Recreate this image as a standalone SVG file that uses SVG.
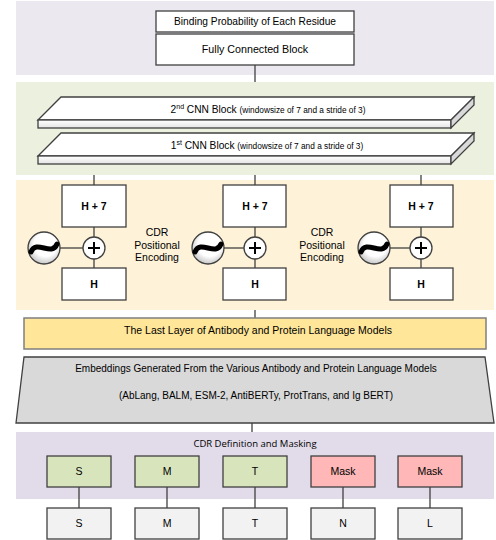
<svg xmlns="http://www.w3.org/2000/svg" width="496" height="540" viewBox="0 0 496 540">
<defs>
<style>
text{font-family:"Liberation Sans",Arial,sans-serif;fill:#000;}
.box{stroke:#404040;stroke-width:1.3;}
.w{fill:#fff;}
.ln{stroke:#404040;stroke-width:1.3;fill:none;}
.t10{font-size:10px;text-anchor:middle;}
.b{font-weight:bold;font-size:10.5px;text-anchor:middle;}
.lab{font-size:10.5px;text-anchor:middle;}
.sw{stroke:#000;stroke-width:5;fill:none;stroke-linecap:round;}
</style>
<linearGradient id="front" x1="0" y1="0" x2="0" y2="1">
<stop offset="0" stop-color="#ffffff"/>
<stop offset="1" stop-color="#e4e4e4"/>
</linearGradient>
<radialGradient id="sine" cx="0.55" cy="0.4" r="0.6">
<stop offset="0.6" stop-color="#ffffff"/>
<stop offset="1" stop-color="#c8c8c8"/>
</radialGradient>
</defs>

<!-- bands -->
<g id="bands">
<rect x="16" y="1" width="478" height="74" fill="#ebe9ef"/>
<rect x="16" y="82" width="478" height="93" fill="#ebf1de"/>
<rect x="16" y="180" width="478" height="130" fill="#fef3d8"/>
<rect x="16" y="432" width="478" height="67" fill="#e2dcea"/>
</g>

<g id="connectors">
<line class="ln" x1="255" y1="65" x2="255" y2="82"/>
<line class="ln" x1="94" y1="175" x2="94" y2="185"/>
<line class="ln" x1="255" y1="175" x2="255" y2="185"/>
<line class="ln" x1="421" y1="175" x2="421" y2="185"/>
<line class="ln" x1="94" y1="227" x2="94" y2="268"/>
<line class="ln" x1="255" y1="227" x2="255" y2="268"/>
<line class="ln" x1="421" y1="227" x2="421" y2="268"/>
<line class="ln" x1="60" y1="248" x2="83" y2="248"/>
<line class="ln" x1="224" y1="248" x2="244" y2="248"/>
<line class="ln" x1="390" y1="248" x2="410" y2="248"/>
<line class="ln" x1="255" y1="310" x2="255" y2="318"/>
<line class="ln" x1="252" y1="423" x2="252" y2="432"/>
<line class="ln" x1="79" y1="487" x2="79" y2="508"/>
<line class="ln" x1="167" y1="487" x2="167" y2="508"/>
<line class="ln" x1="255" y1="487" x2="255" y2="508"/>
<line class="ln" x1="343" y1="487" x2="343" y2="508"/>
<line class="ln" x1="430" y1="487" x2="430" y2="508"/>
</g>

<g id="binding">
<rect class="box w" x="156" y="11" width="198" height="21"/>
<text class="t10" x="255" y="25" style="font-size:10.2px">Binding Probability of Each Residue</text>
</g>
<g id="fc">
<rect class="box w" x="156" y="34" width="198" height="31"/>
<text class="t10" x="255" y="53" style="font-size:10.7px">Fully Connected Block</text>
</g>

<g id="cnn2">
<polygon class="box w" points="38,120 61,97 474,97 451,120"/>
<rect class="box" x="38" y="120" width="413" height="8" fill="url(#front)"/>
<polygon class="box" points="451,120 474,97 474,105 451,128" fill="#d9d9d9"/>
<text x="268" y="113" style="font-size:10.2px;text-anchor:middle">2<tspan font-size="7" dy="-4">nd</tspan><tspan dy="4">  CNN Block </tspan><tspan font-size="8.3">(windowsize of 7 and a stride of 3)</tspan></text>
</g>
<g id="cnn1">
<polygon class="box w" points="38,156 61,133 474,133 451,156"/>
<rect class="box" x="38" y="156" width="413" height="8" fill="url(#front)"/>
<polygon class="box" points="451,156 474,133 474,141 451,164" fill="#d9d9d9"/>
<text x="267" y="149" style="font-size:10.2px;text-anchor:middle">1<tspan font-size="7" dy="-4">st</tspan><tspan dy="4"> CNN Block </tspan><tspan font-size="8.3">(windowsize of 7 and a stride of 3)</tspan></text>
</g>

<g id="h7-1"><rect class="box w" x="62" y="185" width="64" height="42"/><text class="b" x="94" y="210">H + 7</text></g>
<g id="h7-2"><rect class="box w" x="223" y="185" width="63" height="42"/><text class="b" x="255" y="210">H + 7</text></g>
<g id="h7-3"><rect class="box w" x="390" y="185" width="63" height="42"/><text class="b" x="421" y="210">H + 7</text></g>

<g id="h-1"><rect class="box w" x="62" y="268" width="64" height="32"/><text class="b" x="94" y="288">H</text></g>
<g id="h-2"><rect class="box w" x="223" y="268" width="63" height="32"/><text class="b" x="255" y="288">H</text></g>
<g id="h-3"><rect class="box w" x="390" y="268" width="63" height="32"/><text class="b" x="421" y="288">H</text></g>

<g id="plus-1"><circle class="box w" cx="94" cy="248" r="11"/><path d="M88,248H100M94,242V254" stroke="#000" stroke-width="2"/></g>
<g id="plus-2"><circle class="box w" cx="255" cy="248" r="11"/><path d="M249,248H261M255,242V254" stroke="#000" stroke-width="2"/></g>
<g id="plus-3"><circle class="box w" cx="421" cy="248" r="11"/><path d="M415,248H427M421,242V254" stroke="#000" stroke-width="2"/></g>

<g id="sine-1"><circle class="box" cx="44" cy="248" r="16" fill="url(#sine)"/><path class="sw" d="M31,252 C36,239 52,257 57,244"/></g>
<g id="sine-2"><circle class="box" cx="208" cy="248" r="16" fill="url(#sine)"/><path class="sw" d="M195,252 C200,239 216,257 221,244"/></g>
<g id="sine-3"><circle class="box" cx="374" cy="248" r="16" fill="url(#sine)"/><path class="sw" d="M361,252 C366,239 382,257 387,244"/></g>

<g id="cdr-pe-1"><text class="lab" x="157" y="236">CDR<tspan x="157" dy="12.5">Positional</tspan><tspan x="157" dy="12.5">Encoding</tspan></text></g>
<g id="cdr-pe-2"><text class="lab" x="322" y="236">CDR<tspan x="322" dy="12.5">Positional</tspan><tspan x="322" dy="12.5">Encoding</tspan></text></g>

<g id="lastlayer">
<rect x="24" y="318" width="462" height="31" fill="#ffe699" stroke="#7f7f7f" stroke-width="1.5"/>
<text class="t10" x="258" y="334" style="font-size:10.5px">The Last Layer of Antibody and Protein Language Models</text>
</g>

<g id="embeddings">
<polygon points="24,357 485,357 494,423 16,423" fill="#d9d9d9" stroke="#404040" stroke-width="1.3"/>
<text class="t10" x="256" y="372">Embeddings Generated From the Various Antibody and Protein Language Models</text>
<text class="t10" x="256" y="399">(AbLang, BALM, ESM-2, AntiBERTy, ProtTrans, and Ig BERT)</text>
</g>

<g id="masking-title"><text x="255" y="447" style="font-family:'Open Sans','Liberation Sans',sans-serif;font-size:9.5px;text-anchor:middle">CDR Definition and Masking</text></g>

<g id="in-S"><rect class="box" x="47" y="456" width="64" height="31" fill="#d8e4bc"/><text class="lab" x="79" y="475">S</text></g>
<g id="in-M"><rect class="box" x="135" y="456" width="64" height="31" fill="#d8e4bc"/><text class="lab" x="167" y="475">M</text></g>
<g id="in-T"><rect class="box" x="223" y="456" width="64" height="31" fill="#d8e4bc"/><text class="lab" x="255" y="475">T</text></g>
<g id="in-Mask1"><rect class="box" x="311" y="456" width="64" height="31" fill="#ffb7b7"/><text class="lab" x="343" y="475">Mask</text></g>
<g id="in-Mask2"><rect class="box" x="398" y="456" width="64" height="31" fill="#ffb7b7"/><text class="lab" x="430" y="475">Mask</text></g>

<g id="seq-S"><rect class="box" x="47" y="508" width="64" height="31" fill="#f2f2f2"/><text class="lab" x="79" y="527">S</text></g>
<g id="seq-M"><rect class="box" x="135" y="508" width="64" height="31" fill="#f2f2f2"/><text class="lab" x="167" y="527">M</text></g>
<g id="seq-T"><rect class="box" x="223" y="508" width="64" height="31" fill="#f2f2f2"/><text class="lab" x="255" y="527">T</text></g>
<g id="seq-N"><rect class="box" x="311" y="508" width="64" height="31" fill="#f2f2f2"/><text class="lab" x="343" y="527">N</text></g>
<g id="seq-L"><rect class="box" x="398" y="508" width="64" height="31" fill="#f2f2f2"/><text class="lab" x="430" y="527">L</text></g>
</svg>
